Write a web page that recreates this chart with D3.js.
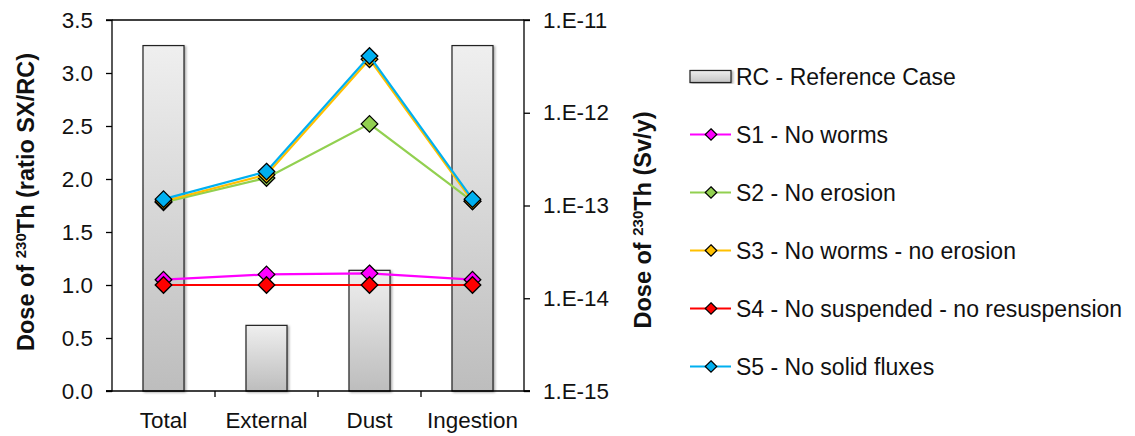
<!DOCTYPE html>
<html>
<head>
<meta charset="utf-8">
<script src="https://cdn.jsdelivr.net/npm/d3@7"></script>
<style>
	body { margin: 0; background: #fff; }
	svg text { font-family: "Liberation Sans", Arial, sans-serif; fill: #111; }
</style>
</head>
<body>
<svg id="chart" width="1135" height="436"></svg>
<script>
// categories on the x axis
var categories = ["Total", "External", "Dust", "Ingestion"];

// reference case dose (Sv/y), right log axis
var rcDose = [5.3e-12, 5.1e-15, 2.0e-14, 5.3e-12];

// scenario ratios SX/RC, left axis
var s1 = [1.05, 1.10, 1.11, 1.05];
var s2 = [1.78, 2.01, 2.52, 1.79];
var s3 = [1.79, 2.04, 3.13, 1.79];
var s4 = [1.00, 1.00, 1.00, 1.00];
var s5 = [1.81, 2.07, 3.16, 1.81];

var leftTicks = [0, 0.5, 1, 1.5, 2, 2.5, 3, 3.5];
var rightTicks = [1e-15, 1e-14, 1e-13, 1e-12, 1e-11];
var rightTickLabels = ["1.E-15", "1.E-14", "1.E-13", "1.E-12", "1.E-11"];

var series = [
	{ name: "S1 - No worms", values: s1, color: "#ff00ff" },
	{ name: "S2 - No erosion", values: s2, color: "#92d050" },
	{ name: "S3 - No worms - no erosion", values: s3, color: "#ffc000" },
	{ name: "S4 - No suspended - no resuspension", values: s4, color: "#ff0000" },
	{ name: "S5 - No solid fluxes", values: s5, color: "#00b0f0" }
];

var svg = d3.select("#chart");
var plot = { left: 112, right: 524, top: 20, bottom: 391 };
var tickFont = 22.4;

var x = d3.scaleBand().domain(categories).range([plot.left, plot.right]);
var yL = d3.scaleLinear().domain([0, 3.5]).range([plot.bottom, plot.top]);
var yR = d3.scaleLog().domain([1e-15, 1e-11]).range([plot.bottom, plot.top]);

var defs = svg.append("defs");
var grad = defs.append("linearGradient").attr("id", "barGrad")
	.attr("x1", 0).attr("y1", 0).attr("x2", 0).attr("y2", 1);
grad.append("stop").attr("offset", "0%").attr("stop-color", "#efefef");
grad.append("stop").attr("offset", "100%").attr("stop-color", "#bdbdbd");

var legGrad = defs.append("linearGradient").attr("id", "legGrad")
	.attr("x1", 0).attr("y1", 0).attr("x2", 0).attr("y2", 1);
legGrad.append("stop").attr("offset", "0%").attr("stop-color", "#eeeeee");
legGrad.append("stop").attr("offset", "100%").attr("stop-color", "#c4c4c4");

var shadow = defs.append("filter").attr("id", "shadow")
	.attr("x", "-20%").attr("y", "-5%").attr("width", "140%").attr("height", "110%");
shadow.append("feDropShadow").attr("dx", 1.5).attr("dy", 1).attr("stdDeviation", 1)
	.attr("flood-color", "#000").attr("flood-opacity", 0.35);

// bars (RC)
var barW = 41;
svg.append("g").attr("class", "bars")
	.selectAll("rect")
	.data(rcDose)
	.enter().append("rect")
	.attr("x", function(d, i) { return x(categories[i]) + x.bandwidth() / 2 - barW / 2; })
	.attr("y", function(d) { return yR(d); })
	.attr("width", barW)
	.attr("height", function(d) { return plot.bottom - yR(d); })
	.attr("fill", "url(#barGrad)")
	.attr("stroke", "#222")
	.attr("stroke-width", 1.2)
	.attr("filter", "url(#shadow)");

// frame: top border
svg.append("line")
	.attr("x1", plot.left).attr("x2", plot.right)
	.attr("y1", plot.top).attr("y2", plot.top)
	.attr("stroke", "#000").attr("stroke-width", 1.3);

// left axis
var leftAxis = svg.append("g")
	.attr("transform", "translate(" + plot.left + ",0)")
	.call(d3.axisLeft(yL).tickValues(leftTicks).tickSize(6).tickPadding(13)
		.tickFormat(d3.format(".1f")));

// right axis
var rightAxis = svg.append("g")
	.attr("transform", "translate(" + plot.right + ",0)")
	.call(d3.axisRight(yR).tickValues(rightTicks).tickSize(6).tickPadding(13)
		.tickFormat(function(d, i) { return rightTickLabels[i]; }));

// bottom axis with ticks between categories
var bottomAxis = svg.append("g")
	.attr("transform", "translate(0," + plot.bottom + ")")
	.call(d3.axisBottom(x).tickSize(0).tickPadding(21));
bottomAxis.selectAll(".sep")
	.data(categories.slice(1))
	.enter().append("line")
	.attr("class", "sep")
	.attr("x1", function(d) { return x(d); })
	.attr("x2", function(d) { return x(d); })
	.attr("y1", 0).attr("y2", 6)
	.attr("stroke", "#000").attr("stroke-width", 1.3);

[leftAxis, rightAxis, bottomAxis].forEach(function(a) {
	a.select(".domain").attr("stroke", "#000").attr("stroke-width", 1.3);
	a.selectAll(".tick line").attr("stroke", "#000").attr("stroke-width", 1.3);
	a.selectAll(".tick text").attr("font-size", tickFont).attr("fill", "#111")
		.attr("font-family", "Liberation Sans, Arial, sans-serif");
});
leftAxis.select(".domain").attr("d", "M-6," + plot.bottom + "H0V" + plot.top + "H-6");
rightAxis.select(".domain").attr("d", "M6," + plot.bottom + "H0V" + plot.top + "H6");
bottomAxis.select(".domain").attr("d", "M" + (plot.left - 6) + ",0H" + (plot.right + 6));

// series lines and diamond markers
var line = d3.line()
	.x(function(d, i) { return x(categories[i]) + x.bandwidth() / 2; })
	.y(function(d) { return yL(d); });
var diamond = d3.symbol().type(d3.symbolDiamond2).size(175);

series.forEach(function(s) {
	var g = svg.append("g").attr("class", "series");
	g.append("path")
		.attr("d", line(s.values))
		.attr("fill", "none")
		.attr("stroke", s.color)
		.attr("stroke-width", 2.2);
	g.selectAll("path.marker")
		.data(s.values)
		.enter().append("path")
		.attr("class", "marker")
		.attr("d", diamond)
		.attr("transform", function(d, i) {
			return "translate(" + (x(categories[i]) + x.bandwidth() / 2) + "," + yL(d) + ")";
		})
		.attr("fill", s.color)
		.attr("stroke", "#000")
		.attr("stroke-width", 1.3);
});

// axis titles
var titleFont = 23.5;
function axisTitle(cx, cy, tail) {
	var t = svg.append("text")
		.attr("transform", "translate(" + cx + "," + cy + ") rotate(-90)")
		.attr("text-anchor", "middle")
		.attr("font-size", titleFont)
		.attr("font-weight", "bold");
	t.append("tspan").text("Dose of ");
	t.append("tspan").attr("font-size", 15).attr("dy", -8).text("230");
	t.append("tspan").attr("dy", 8).text("Th (" + tail);
	return t;
}
var leftTitle = axisTitle(34, 202, "ratio SX/RC)");
var rightTitle = axisTitle(651, 220, "Sv/y)");

// legend
var legend = svg.append("g").attr("class", "legend");
var legX = 690, legY0 = 76.5, legStep = 58, legFont = 23;
legend.append("rect")
	.attr("x", legX).attr("y", legY0 - 6)
	.attr("width", 41).attr("height", 12)
	.attr("fill", "url(#legGrad)")
	.attr("stroke", "#222").attr("stroke-width", 1.2)
	.attr("filter", "url(#shadow)");
legend.append("text")
	.attr("x", legX + 46).attr("y", legY0).attr("dy", "0.35em")
	.attr("font-size", legFont)
	.text("RC - Reference Case");

series.forEach(function(s, i) {
	var yy = legY0 + legStep * (i + 1);
	legend.append("line")
		.attr("x1", legX).attr("x2", legX + 41)
		.attr("y1", yy).attr("y2", yy)
		.attr("stroke", s.color).attr("stroke-width", 2);
	legend.append("path")
		.attr("d", d3.symbol().type(d3.symbolDiamond2).size(85))
		.attr("transform", "translate(" + (legX + 21) + "," + yy + ")")
		.attr("fill", s.color)
		.attr("stroke", "#000").attr("stroke-width", 1.2);
	legend.append("text")
		.attr("x", legX + 46).attr("y", yy).attr("dy", "0.35em")
		.attr("font-size", legFont)
		.text(s.name);
});
</script>
</body>
</html>
